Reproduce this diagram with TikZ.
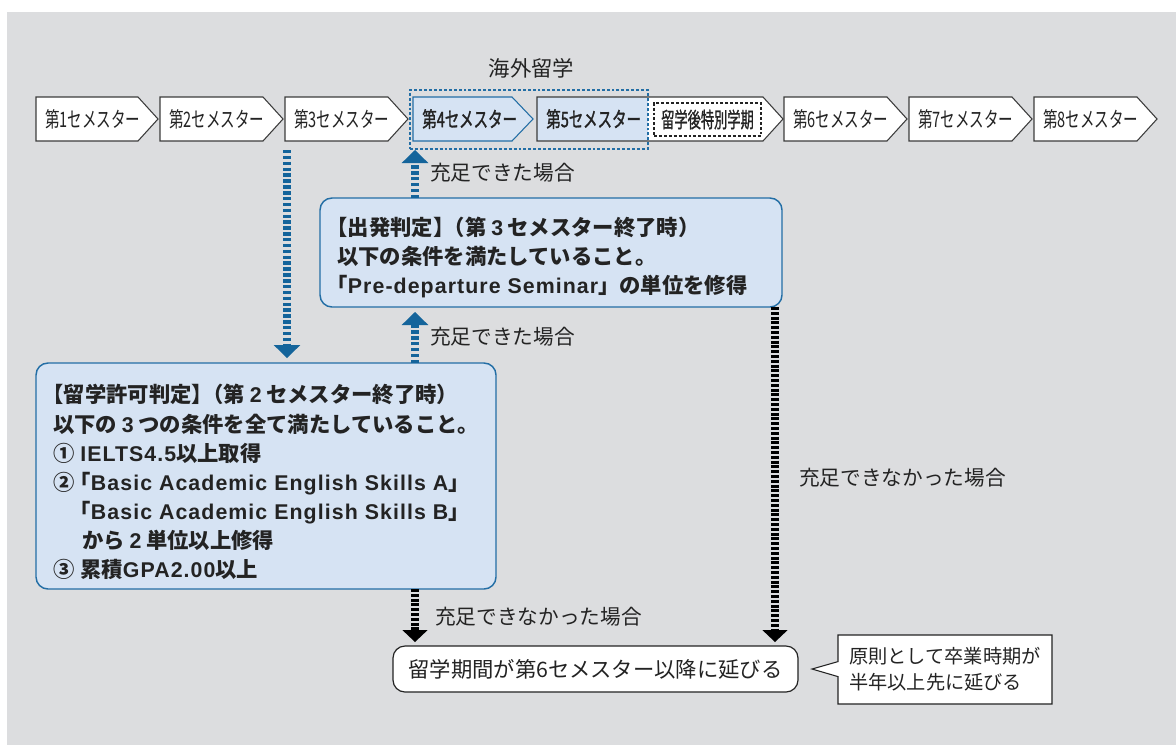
\documentclass[tikz,border=0pt]{standalone}
\usepackage{fontspec}
\setmainfont{Noto Sans CJK JP}
\newfontfamily\semfont[FakeStretch=0.68]{Noto Sans CJK JP}
\newfontfamily\semfontm[FakeStretch=0.68,FakeBold=1.2]{Noto Sans CJK JP}
\newfontfamily\spfont[FakeStretch=0.62,FakeBold=1.0]{Noto Sans CJK JP}
\newfontfamily\latb[LetterSpace=5]{Liberation Sans}
\usetikzlibrary{arrows.meta,shapes.callouts}
\definecolor{bgGray}{RGB}{220,221,223}
\definecolor{lightBlue}{RGB}{214,227,243}
\definecolor{blueDark}{RGB}{20,100,155}
\definecolor{blueBorder}{RGB}{35,110,165}
\definecolor{txt}{RGB}{35,35,35}
\definecolor{grayBorder}{RGB}{60,60,60}
\newcommand\qs{\hspace{.22em}}
\newcommand\tk{\hspace{-.5em}}
\begin{document}
\begin{tikzpicture}[x=0.75pt,y=-0.75pt,
  chev/.style={draw=grayBorder,fill=white,line width=0.8pt,line join=miter},
  semtext/.style={anchor=west,inner sep=0pt,text=txt,font=\semfont\fontsize{16}{18}\selectfont},
  semtextm/.style={anchor=west,inner sep=0pt,text=txt,font=\semfontm\fontsize{16}{18}\selectfont},
  bluebox/.style={draw=blueBorder,fill=lightBlue,line width=1.1pt,rounded corners=9pt,inner sep=0pt,outer sep=0pt},
  boldtext/.style={anchor=west,inner sep=0pt,align=left,text=txt,font=\bfseries\fontsize{16}{21.8}\selectfont},
  lbl/.style={anchor=west,inner sep=0pt,text=txt,font=\fontsize{15.5}{18}\selectfont},
  bluedash/.style={draw=blueDark,line width=5.5pt,dash pattern=on 2.6pt off 1.8pt,
     -{Triangle[width=20pt,length=9.75pt,line width=0pt]}},
  blackdash/.style={draw=black,line width=5.5pt,dash pattern=on 2.2pt off 1.4pt,
     -{Triangle[width=19pt,length=9pt,line width=0pt]}}
]
\useasboundingbox (0,0) rectangle (1176,747);
\fill[bgGray] (7,12) rectangle (1176,745);

% semester chevrons
\foreach \L/\R/\n/\t in {36/158/s1/1,160/283/s2/2,285/408/s3/3,784/907/s6/6,909/1032/s7/7,1034/1157/s8/8}{
  \draw[chev] (\L,97) -- (\R-20,97) -- (\R,119) -- (\R-20,141) -- (\L,141) -- cycle;
  \node[semtext] (\n) at (\L+9,119) {第\t セメスター};
}
% semester 4
\draw[chev,fill=lightBlue,draw=blueBorder] (413,97) -- (512,97) -- (533,119) -- (512,141) -- (413,141) -- cycle;
\node[semtextm] (s4) at (422,119) {第4セメスター};
% semester 5 + special term
\fill[white] (537,97) -- (763,97) -- (783,119) -- (763,141) -- (537,141) -- cycle;
\fill[lightBlue] (537,97) rectangle (648,141);
\draw[chev,fill=none] (537,97) -- (763,97) -- (783,119) -- (763,141) -- (537,141) -- cycle;
\node[semtextm] (s5) at (546,119) {第5セメスター};
\node[draw=txt,dash pattern=on 2.2pt off 1.5pt,line width=0.8pt,minimum width=80.25pt,minimum height=24.75pt,inner sep=0pt,text=txt,font=\spfont\fontsize{16}{18}\selectfont] (special) at (707.5,119.5) {留学後特別学期};
% study abroad dashed frame
\node[draw=blueBorder,dash pattern=on 2.2pt off 1.5pt,line width=0.8pt,minimum width=178.5pt,minimum height=44.25pt,inner sep=0pt,outer sep=0pt] (abroad) at (529,119.5) {};
\node[inner sep=0pt,text=txt,font=\fontsize{16}{18}\selectfont] (abroadlbl) at (531.5,68) {海外留学};

% judgement boxes
\node[bluebox,minimum width=346.5pt,minimum height=81.75pt] (judge3) at (551,252.5) {};
\node[boldtext] (judge3t) at ([xshift=12.75pt,yshift=-3.75pt]judge3.west) {%
\hspace*{-.5em}【出発判定】\tk（第\qs{\latb 3}\qs セメスター終了時）\\
以下の条件を満たしていること。\\
\hspace*{-.5em}「{\latb Pre-departure Seminar}」の単位を修得};

\node[bluebox,minimum width=345pt,minimum height=169.5pt] (judge2) at (266,476) {};
\node[boldtext] (judge2t) at ([xshift=12.75pt,yshift=-4.5pt]judge2.west) {%
\hspace*{-.5em}【留学許可判定】\tk（第\qs{\latb 2}\qs セメスター終了時）\\
以下の\qs{\latb 3}\qs つの条件を全て満たしていること。\\
\makebox[20.25pt][l]{①}{\latb IELTS4.5}以上取得\\
\makebox[20.25pt][l]{②}\hspace*{-.5em}「{\latb Basic Academic English Skills A}」\\
\hspace*{20.25pt}\hspace*{-.5em}「{\latb Basic Academic English Skills B}」\\
\hspace*{21.75pt}から\qs{\latb 2}\qs 単位以上修得\\
\makebox[20.25pt][l]{③}累積{\latb GPA2.00}以上};

% result box
\node[draw=txt,fill=white,line width=0.9pt,rounded corners=9pt,minimum width=303.75pt,minimum height=34.5pt,inner sep=0pt,outer sep=0pt,text=txt,font=\fontsize{16}{18}\selectfont] (final) at (595.5,669) {留学期間が第6セメスター以降に延びる};

% callout
\node[rectangle callout,draw=txt,fill=white,line width=0.8pt,callout absolute pointer={(812,669)},callout pointer width=11.25pt,minimum width=160.5pt,minimum height=51.75pt,inner sep=0pt,align=left,text=txt,font=\fontsize{14.4}{19.5}\selectfont] (note) at (945,669.5) {原則として卒業時期が\\半年以上先に延びる};

% connectors
\coordinate (e2) at (287,150);
\coordinate (e3x) at (415,0);
\coordinate (e4x) at (775,0);
\draw[bluedash,shorten >=3.75pt] (e2) -- (e2 |- judge2.north);
\draw[bluedash,shorten >=3.75pt] (judge2.north -| e3x) -- (judge3.south -| e3x);
\draw[bluedash,shorten >=0.75pt] (judge3.north -| e3x) -- (abroad.south -| e3x);
\draw[blackdash,shorten >=3pt] (judge3.south -| e4x) -- (final.north -| e4x);
\draw[blackdash,shorten >=3pt] (judge2.south -| e3x) -- (final.north -| e3x);

% labels
\node[lbl] (l1) at (430,173) {充足できた場合};
\node[lbl] (l2) at (430,337) {充足できた場合};
\node[lbl] (l3) at (799,478) {充足できなかった場合};
\node[lbl] (l4) at (435,617) {充足できなかった場合};
\end{tikzpicture}
\end{document}
